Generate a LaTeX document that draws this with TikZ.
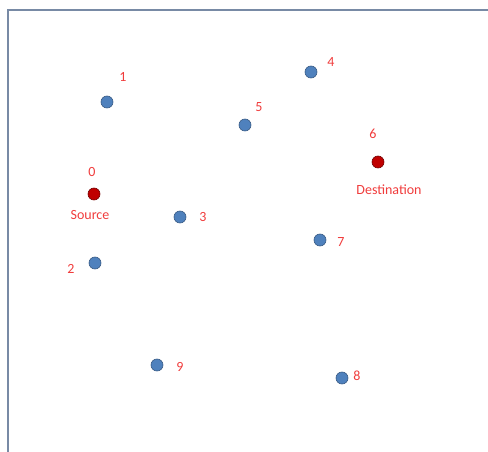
\documentclass[tikz,border=0pt]{standalone}
\usepackage{fontspec}
\setmainfont{Carlito}
\usepackage{xcolor}
\usepackage{tikz}
\usetikzlibrary{positioning}

\definecolor{dotblue}{RGB}{79,129,189}
\definecolor{dotred}{RGB}{192,0,0}
\definecolor{lblred}{RGB}{240,60,60}
\definecolor{framegray}{RGB}{120,138,165}

\begin{document}
\begin{tikzpicture}[x=1pt, y=-1pt,
    dot/.style={circle, fill=dotblue, draw=dotblue!70!black, line width=0.6pt,
                inner sep=0pt, minimum size=12pt},
    enddot/.style={dot, fill=dotred, draw=dotred!60!black},
    lbl/.style={text=lblred, font=\fontsize{14}{16}\selectfont, inner sep=1pt}]
  \useasboundingbox (0,0) rectangle (488,452);
  % frame
  \draw[framegray, line width=1.8pt] (8,452) -- (8,10) -- (488,10);

  % nodes
  \node[enddot] (n0) at (94,194) {};
  \node[dot]    (n1) at (107,102) {};
  \node[dot]    (n2) at (95,263) {};
  \node[dot]    (n3) at (180,217) {};
  \node[dot]    (n4) at (311,72) {};
  \node[dot]    (n5) at (245,125) {};
  \node[enddot] (n6) at (378,162) {};
  \node[dot]    (n7) at (320,240) {};
  \node[dot]    (n8) at (342,378) {};
  \node[dot]    (n9) at (157,365) {};

  % labels
  \node[lbl] (l0) at (92,172) {0};
  \node[lbl] (src) at (90,215) {Source};
  \node[lbl] (l1) at (123,77) {1};
  \node[lbl] (l2) at (71,269) {2};
  \node[lbl] (l3) at (203,217) {3};
  \node[lbl] (l4) at (331,62) {4};
  \node[lbl] (l5) at (259,107) {5};
  \node[lbl] (l6) at (373,134) {6};
  \node[lbl] (dst) at (389,190) {Destination};
  \node[lbl] (l7) at (341,242) {7};
  \node[lbl] (l8) at (357,376) {8};
  \node[lbl] (l9) at (180,367) {9};
\end{tikzpicture}
\end{document}
